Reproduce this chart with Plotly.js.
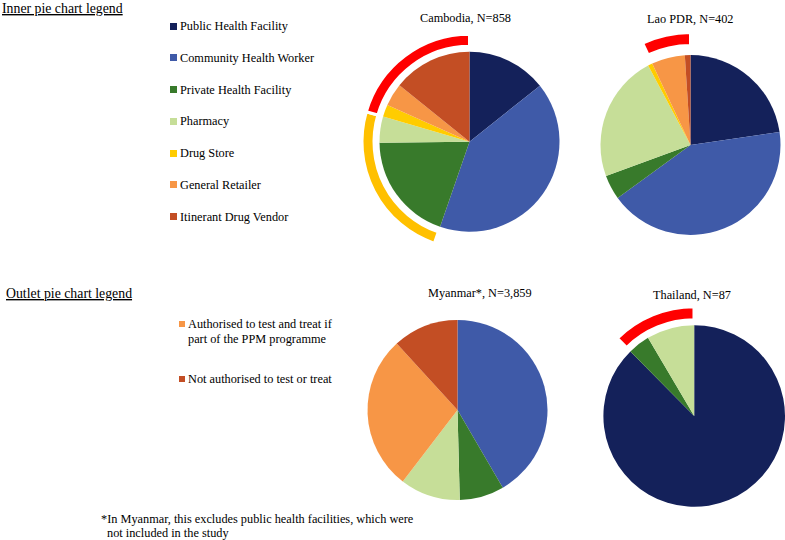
<!DOCTYPE html>
<html>
<head>
<meta charset="utf-8">
<script src="https://cdn.plot.ly/plotly-3.0.1.min.js"></script>
<style>
html,body{margin:0;padding:0;overflow:hidden;background:#fff;}
#chart{width:820px;height:540px;}
</style>
</head>
<body>
<div id="chart"></div>
<script>
// ---------- data ----------
const categories = ['Public Health Facility','Community Health Worker','Private Health Facility','Pharmacy','Drug Store','General Retailer','Itinerant Drug Vendor'];
const categoryColors = ['#14215A','#3F5AA8','#387A2B','#C6DE98','#FFCC00','#F79646','#C34E24'];

const countryTitles = ['Cambodia, N=858','Lao PDR, N=402','Myanmar*, N=3,859','Thailand, N=87'];
const cambodia = [14.3, 41.0, 19.5, 4.7, 2.2, 4.1, 14.2];
const lao      = [22.7, 42.3, 4.4, 22.8, 0.8, 6.0, 1.0];
const myanmar  = [0, 41.6, 8.0, 10.8, 0, 27.8, 11.8];
const thailand = [87.6, 0, 3.9, 8.5, 0, 0, 0];

// outer arc grouping per category (null = no arc)
const cambodiaArcs = [null, null, 'yellow', 'yellow', 'red', 'red', 'red'];
const laoArcs      = [null, null, null, null, null, 'red', 'red'];
const myanmarArcs  = [null, null, null, null, null, null, null];
const thailandArcs = [null, null, 'red', 'red', null, null, null];
const arcColors = {red:'#FF0000', yellow:'#FFC000'};

const outletLabels = [['Authorised to test and treat if','part of the PPM programme'],['Not authorised to test or treat']];
const outletColors = ['#F79646','#C34E24'];

const footnoteLines = ['*In Myanmar, this excludes public health facilities, which were','not included in the study'];

// ---------- layout geometry (pixels) ----------
const W = 820, H = 540;
const px = x => x / W, py = y => (H - y) / H;
function dom(cx, cy, r){ return {x:[px(cx - r), px(cx + r)], y:[py(cy + r), py(cy - r)]}; }

const pies = [
  {vals:cambodia, arcs:cambodiaArcs, cx:469.5, cy:141.7, r:90,  rin:97,  rout:106,   tx:465.5, ty:17.5},
  {vals:lao,      arcs:laoArcs,      cx:690.5, cy:145,   r:90,  rin:101, rout:111,   tx:690,   ty:19},
  {vals:myanmar,  arcs:myanmarArcs,  cx:457.5, cy:410,   r:90,  rin:97,  rout:106,   tx:480,   ty:293.3},
  {vals:thailand, arcs:thailandArcs, cx:694.2, cy:416,   r:90.8,rin:97.7,rout:107.7, tx:691.7, ty:295}
];

const FONT = 'Liberation Serif, Times New Roman, serif';
const traces = [];
const annotations = [];

pies.forEach((p, k) => {
  traces.push({
    type:'pie', values:p.vals, labels:categories, sort:false, direction:'clockwise', rotation:0,
    marker:{colors:categoryColors, line:{width:0}}, textinfo:'none', hoverinfo:'label+percent',
    showlegend:false, domain:dom(p.cx, p.cy, p.r)
  });
  // ring of arcs: merge consecutive categories with same arc group
  const rv = [], rc = [];
  p.vals.forEach((v, i) => {
    const g = p.arcs[i];
    const c = g ? arcColors[g] : 'rgba(0,0,0,0)';
    if (rv.length && rc[rc.length - 1] === c) rv[rv.length - 1] += v;
    else { rv.push(v); rc.push(c); }
  });
  if (rc.some(c => c !== 'rgba(0,0,0,0)')) {
    const ro = p.rout + 1.5, ri = p.rin - 1.5;
    traces.push({
      type:'pie', values:rv, sort:false, direction:'clockwise', rotation:0, hole:ri / ro,
      marker:{colors:rc, line:{width:3, color:'#ffffff'}}, textinfo:'none', hoverinfo:'skip',
      showlegend:false, domain:dom(p.cx, p.cy, ro)
    });
  }
  annotations.push({xref:'paper', yref:'paper', x:px(p.tx), y:py(p.ty), xanchor:'center', yanchor:'middle',
    text:countryTitles[k], showarrow:false, font:{family:FONT, size:12.3, color:'#000'}});
});

function textAnn(x, y, text, size){
  return {xref:'paper', yref:'paper', x:px(x), y:py(y), xanchor:'left', yanchor:'middle',
    text:text, showarrow:false, font:{family:FONT, size:size, color:'#000'}};
}
function square(x, y, s, color){
  return {xref:'paper', yref:'paper', x:px(x), y:py(y), xanchor:'center', yanchor:'middle',
    text:' ', width:s, height:s, borderpad:0, borderwidth:0, bgcolor:color, showarrow:false, font:{size:1}};
}

annotations.push(textAnn(0, 8, '<u>Inner pie chart legend</u>', 13.8));
annotations.push(textAnn(4, 293.3, '<u>Outlet pie chart legend</u>', 13.8));

categories.forEach((c, i) => {
  const y = 26 + i * 31.8;
  annotations.push(square(173.5, y, 7, categoryColors[i]));
  annotations.push(textAnn(177.5, y, c, 12.3));
});

const outletY = [324.3, 379.3];
outletLabels.forEach((lines, i) => {
  annotations.push(square(182, outletY[i], 6, outletColors[i]));
  lines.forEach((t, j) => annotations.push(textAnn(186, outletY[i] + j * 15, t, 12.3)));
});

annotations.push(textAnn(99, 519, footnoteLines[0], 12.3));
annotations.push(textAnn(105, 533, footnoteLines[1], 12.3));

Plotly.newPlot('chart', traces, {
  width:W, height:H, margin:{l:0, r:0, t:0, b:0},
  paper_bgcolor:'#ffffff', plot_bgcolor:'#ffffff',
  annotations:annotations, showlegend:false
}, {displayModeBar:false, staticPlot:true});
</script>
</body>
</html>
